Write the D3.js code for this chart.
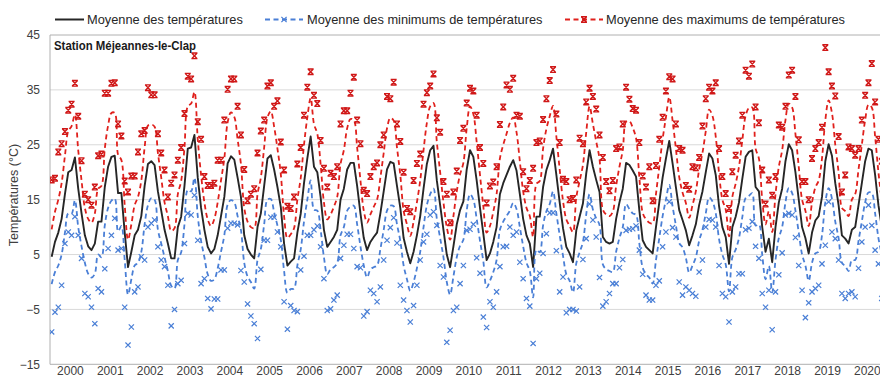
<!DOCTYPE html>
<html><head><meta charset="utf-8">
<script src="https://cdn.jsdelivr.net/npm/d3@7"></script>
<style>
html,body{margin:0;padding:0;background:#fff;}
svg{display:block;font-family:"Liberation Sans",Arial,sans-serif;}
</style></head><body>
<svg id="chart" width="880" height="378"></svg>
<script>
// ---------- DATA (monthly values, Jan 2000 .. Dec 2020) ----------
const years = [2000,2001,2002,2003,2004,2005,2006,2007,2008,2009,2010,2011,2012,2013,2014,2015,2016,2017,2018,2019,2020];
const yTicks = [45,35,25,15,5,-5,-15];
const titleText = "Station Méjeannes-le-Clap";
const yTitle = "Températures (°C)";
const seriesNames = ["Moyenne des températures","Moyenne des minimums de températures","Moyenne des maximums de températures"];

// Moyenne des températures (black line)
const meanT = [
 4.6, 7.3, 9.0,11.5,16.0,20.0,20.4,22.7,17.0,12.5, 8.5, 6.5,
 5.8, 7.0,11.0,11.0,17.3,21.0,22.8,23.0,16.2,16.2, 9.0, 2.7,
 5.5, 8.5, 9.5,12.0,17.5,21.5,22.0,21.3,16.5,13.0, 9.5, 7.0,
 4.3, 4.3,10.0,11.9,17.5,24.3,24.5,26.8,19.0,13.5, 9.5, 6.4,
 5.2, 6.0, 8.5,12.0,15.5,21.6,22.9,22.3,19.0,15.5, 8.5, 6.0,
 5.0, 4.3,10.0,12.5,17.5,22.5,23.1,20.5,17.3,13.7, 7.0, 3.0,
 3.7, 4.3, 9.0,12.4,18.0,22.5,26.5,21.0,20.0,15.5, 9.5, 6.4,
 7.3, 8.2, 9.5,15.0,17.0,20.5,21.7,21.7,17.5,12.5, 8.0, 5.8,
 7.3, 8.2, 9.0,12.5,16.5,20.5,21.9,21.6,17.5,13.5, 8.0, 5.5,
 3.4, 5.5, 8.5,12.0,17.0,21.5,24.0,24.8,18.5,14.0, 9.5, 5.0,
 2.7, 6.5,10.5,13.1,14.7,20.5,24.0,22.8,18.5,13.5, 8.8, 4.0,
 5.2, 7.3,10.0,16.0,18.0,19.5,21.0,22.2,20.3,16.0,11.5, 8.5,
 7.0, 2.7,11.9,11.9,17.3,20.4,22.2,24.3,19.5,14.5, 9.8, 6.4,
 5.2, 3.6, 9.4,11.9,14.3,19.8,24.0,21.0,18.6,16.4, 8.2, 7.3,
 7.0, 7.3,11.5,14.5,17.0,21.7,21.3,20.3,19.2,13.0, 7.6, 6.4,
 5.8, 5.2,10.0,14.5,19.0,22.5,25.7,21.6,17.3,13.1,11.3, 9.4,
 6.7, 8.5,10.5,14.0,16.5,20.0,23.4,22.5,19.5,13.8,10.0, 8.2,
 3.3,10.0,11.9,14.5,18.8,22.8,23.7,24.0,17.3,16.5,10.0, 5.5,
 7.9, 3.6,10.0,14.5,17.0,22.0,25.1,24.0,20.0,15.0,10.0, 8.0,
 5.2, 9.0,11.2,12.0,15.5,22.0,25.1,23.0,18.0,14.0, 8.5, 7.9,
 7.0, 9.5,10.0,14.0,18.0,22.0,24.3,24.0,19.5,14.0,10.0, 7.0
];
// Moyenne des minimums (blue dashed line)
const meanTmin = [
 -0.4, 1.8, 3.0, 5.0, 9.0,12.5,12.4,14.9,10.0, 6.5, 3.5, 1.5,
  0.8, 1.5, 5.0, 4.5,10.3,13.5,14.8,15.2, 9.2,10.2, 4.0,-2.3,
  0.5, 3.0, 3.5, 5.5,10.5,14.0,15.3,15.0, 9.5, 7.0, 4.5, 2.0,
 -0.7,-1.2, 4.0, 5.4,10.5,16.8,16.5,19.0,12.0, 7.5, 4.5, 1.4,
  0.2, 0.5, 2.5, 5.5, 8.5,14.1,14.9,14.5,12.0, 9.5, 3.5, 1.0,
  0.0,-1.2, 4.0, 6.0,10.5,15.0,15.1,12.7,10.3, 7.7, 2.0,-2.0,
 -1.3,-1.2, 3.0, 5.9,11.0,15.0,18.5,13.2,13.0, 9.5, 4.5, 1.4,
  2.3, 2.7, 3.5, 8.5,10.0,13.0,13.7,13.9,10.5, 6.5, 3.0, 0.8,
  2.3, 2.7, 3.0, 6.0, 9.5,13.0,13.9,13.8,10.5, 7.5, 3.0, 0.5,
 -1.6, 0.0, 2.5, 5.5,10.0,14.0,16.0,17.0,11.5, 8.0, 4.5, 0.0,
 -2.3, 1.0, 4.5, 6.6, 7.7,13.0,16.0,15.0,11.5, 7.5, 3.8,-1.0,
  0.2, 1.8, 4.0, 9.5,11.0,12.0,13.0,14.4,13.3,10.0, 6.5, 3.5,
  2.0,-2.8, 5.9, 5.4,10.3,12.9,14.2,16.5,12.5, 8.5, 4.8, 1.4,
  0.2,-1.9, 3.4, 5.4, 7.3,12.3,16.0,13.2,11.6,10.4, 3.2, 2.3,
  2.0, 1.8, 5.5, 8.0,10.0,14.2,13.3,12.5,12.2, 7.0, 2.6, 1.4,
  0.8,-0.3, 4.0, 8.0,12.0,15.0,17.7,13.8,10.3, 7.1, 6.3, 4.4,
  1.7, 3.0, 4.5, 7.5, 9.5,12.5,15.4,14.7,12.5, 7.8, 5.0, 3.2,
 -1.7, 4.5, 5.9, 8.0,11.8,15.3,15.7,16.2,10.3,10.5, 5.0, 0.5,
  2.9,-1.9, 4.0, 8.0,10.0,14.5,17.1,16.2,13.0, 9.0, 5.0, 3.0,
  0.2, 3.5, 5.2, 5.5, 8.5,14.5,17.1,15.2,11.0, 8.0, 3.5, 2.9,
  2.0, 4.0, 4.0, 7.5,11.0,14.5,16.3,16.2,12.5, 8.0, 5.0, 2.0
];
// Moyenne des maximums (red dashed line)
const meanTmax = [
  9.6,12.8,15.0,18.0,23.0,27.5,28.4,30.5,24.0,18.5,13.5,11.5,
 10.8,12.5,17.0,17.5,24.3,28.5,30.8,30.8,23.2,22.2,14.0, 7.7,
 10.5,14.0,15.5,18.5,24.5,28.5,28.7,28.3,23.5,19.0,14.5,12.0,
  9.3, 9.8,16.0,18.4,24.5,32.0,32.5,34.6,26.0,19.5,14.5,11.4,
 10.2,11.5,14.5,18.5,22.5,29.1,30.9,30.1,26.0,21.5,13.5,11.0,
 10.0, 9.8,16.0,19.0,24.5,30.0,31.1,28.3,24.3,19.7,12.0, 8.0,
  8.7, 9.8,15.0,18.9,25.0,30.0,33.5,28.8,27.0,21.5,14.5,11.4,
 12.3,13.7,15.5,21.5,24.0,28.0,29.7,29.5,24.5,18.5,13.0,10.8,
 12.3,13.7,15.0,19.0,23.5,28.0,29.9,29.4,24.5,19.5,13.0,10.5,
  8.4,11.0,14.5,18.5,24.0,29.0,32.0,32.6,25.5,20.0,14.5,10.0,
  7.7,12.0,16.5,19.6,21.7,28.0,32.0,30.6,25.5,19.5,13.8, 9.0,
 10.2,12.8,16.0,22.5,25.0,27.0,29.0,30.0,27.3,22.0,16.5,13.5,
 12.0, 8.2,17.9,18.4,24.3,27.9,30.2,32.1,26.5,20.5,14.8,11.4,
 10.2, 9.1,15.4,18.4,21.3,27.3,32.0,28.8,25.6,22.4,13.2,12.3,
 12.0,12.8,17.5,21.0,24.0,29.2,29.3,28.1,26.2,19.0,12.6,11.4,
 10.8,10.7,16.0,21.0,26.0,30.0,33.7,29.4,24.3,19.1,16.3,14.4,
 11.7,14.0,16.5,20.5,23.5,27.5,31.4,30.3,26.5,19.8,15.0,13.2,
  8.3,15.5,17.9,21.0,25.8,30.3,31.7,31.8,24.3,22.5,15.0,10.5,
 12.9, 9.1,16.0,21.0,24.0,29.5,32.5,31.8,27.0,21.0,15.0,13.0,
 10.2,14.5,17.2,18.5,22.5,29.5,33.1,30.8,25.0,20.0,13.5,12.9,
 12.0,15.0,16.0,20.5,25.0,29.5,32.3,31.8,26.5,20.0,15.0,12.0
];
// Monthly extreme minimum (blue × markers)
const absMin = [
 -9.1,-5.5,-4.6,-0.6, 7.0, 9.1, 8.5,11.9, 8.5, 4.3,-2.1,-2.7,
 -4.6,-7.6,-1.2,-1.8, 2.4, 6.1, 8.5,11.6, 5.8, 6.1,-4.6,-11.5,
 -8.2,-1.8,-0.9, 4.6, 4.0,10.0,10.7,11.3, 6.4, 4.0, 2.8,-0.6,
 -8.0,-5.0,-0.3, 0.3, 7.0,12.5,12.2,15.8, 7.6,-0.3, 0.6,-3.0,
 -4.9,-3.1,-3.1, 2.2, 2.2, 9.8,10.7,10.7,10.4, 2.1, 0.0,-4.0,
 -6.2,-7.6,-10.3, 2.3, 7.6, 7.6,11.8,11.8, 9.1, 6.4,-3.6,-8.6,
 -4.3,-5.2,-5.4, 2.2, 4.7, 8.5, 8.5, 9.5,10.2, 6.4, 0.6,-5.2,
 -4.9,-3.3,-2.4, 4.3, 6.7, 8.7, 8.7, 6.1, 2.8, 2.6,-6.2,-5.4,
 -1.5,-2.1,-3.6,-0.9, 4.0, 7.6, 9.9,11.7, 7.1,-0.6,-3.3,-5.2,
 -7.3,-4.3,-0.6, 4.0, 7.3, 8.7,12.2,12.8,10.3, 3.0, 0.9,-11.0,
 -8.8,-5.2,-4.6,-0.3, 3.0, 9.4, 9.6,10.5, 4.4, 1.6,-6.4,-8.3,
 -3.6,-4.6,-1.8, 2.8, 6.4, 6.5,10.0, 8.5, 9.1, 3.6, 0.6,-3.0,
 -4.4,-11.2, 0.6, 1.6, 5.2, 8.8,12.6,12.6, 5.7,-1.8, 0.9,-5.6,
 -5.0,-5.0,-5.3,-0.9, 4.1, 7.9,14.2,11.3, 8.2, 0.8,-4.4,-3.6,
 -2.1,-0.3,-0.3, 2.6, 4.1, 9.4, 9.6, 9.7,10.2, 5.8, 1.4,-2.4,
 -3.3,-3.3,-0.6, 0.2, 6.4, 9.1,14.6, 9.9, 8.2, 0.0,-2.4,-0.9,
 -1.5,-2.1,-2.6, 1.8, 4.0,10.0,11.4,11.3,10.0, 3.0,-2.1,-2.7,
 -7.3,-1.8,-0.9, 1.5, 1.5, 9.5, 9.8,11.0, 6.5, 4.3,-2.1,-4.6,
 -1.5,-8.7,-1.8, 1.3, 5.3,12.2,12.5,12.2, 8.1, 3.0,-1.5,-6.5,
 -3.8,-1.8,-1.2,-0.6, 3.3, 6.7,14.6, 9.1, 7.9, 4.0,-2.1,-3.0,
 -2.1,-1.8,-2.7, 2.5, 7.3,10.0,14.0,10.3, 5.8, 3.3,-3.0,-3.0
];
// Monthly extreme maximum (red markers)
const absMax = [
 18.6,18.9,23.7,25.2,27.4,31.3,32.4,36.2,30.2,22.1,16.0,15.0,
 14.0,17.3,23.0,23.3,34.4,34.4,36.2,36.3,28.8,26.6,18.4,16.4,
 19.3,19.3,23.7,27.0,27.6,35.4,34.1,34.1,27.0,23.5,20.4,15.5,
 18.0,19.5,22.2,24.5,30.7,37.5,37.0,41.2,29.2,26.0,19.2,17.6,
 17.6,18.0,22.2,22.2,29.5,35.1,37.0,37.0,32.0,26.8,20.5,14.8,
 16.0,17.0,23.5,27.5,29.5,35.7,36.3,32.0,33.0,25.5,20.4,13.8,
 13.4,15.5,21.5,24.5,30.4,35.5,38.3,34.0,32.5,25.8,20.7,17.3,
 19.8,19.2,21.0,28.8,31.2,31.2,34.4,37.3,29.5,25.2,16.7,16.1,
 19.2,21.0,21.7,25.0,26.8,33.8,33.4,36.4,28.8,25.6,20.0,13.4,
 12.8,18.5,21.6,23.3,32.4,34.5,35.7,37.9,29.9,27.3,18.3,16.0,
 10.8,16.4,20.2,25.8,28.0,32.6,35.3,34.8,30.4,24.5,21.6,14.4,
 17.5,18.2,21.0,28.7,31.9,35.9,35.1,37.1,30.4,30.2,20.1,17.0,
 18.5,20.7,25.4,25.7,29.6,33.4,36.7,38.7,30.6,25.4,18.7,18.3,
 15.0,15.2,18.6,26.2,25.2,32.8,35.3,33.8,31.5,26.8,22.7,18.3,
 16.6,18.5,24.3,24.6,28.8,35.5,33.3,31.6,31.3,25.4,19.3,17.3,
 21.0,14.8,21.2,26.0,30.0,34.8,37.4,37.0,28.8,24.3,24.0,17.6,
 16.9,21.0,20.8,22.7,28.4,33.4,35.5,34.8,36.3,24.3,19.2,16.1,
 13.4,20.1,23.1,25.7,30.4,38.6,37.5,39.7,31.9,29.0,20.4,14.2,
 18.6,15.8,19.2,28.6,28.2,32.0,37.7,38.6,33.8,25.9,18.3,18.3,
 15.0,22.5,24.3,25.4,28.2,42.7,38.3,35.7,33.9,26.5,16.4,19.5,
 24.6,24.3,23.1,24.3,29.5,34.0,36.3,39.8,32.8,26.0,22.0,18.0
];

// ---------- CHART ----------
const W = 880, H = 378;
const pL = 50, pT = 35, pB = 364.3;
const nMonths = years.length * 12;
const pR = pL + 3.3204 * nMonths;     // extends beyond the picture (cropped like the reference)

const svg = d3.select("#chart");
const months = d3.range(nMonths);
const xBand = d3.scaleBand().domain(months).range([pL, pR]).padding(0);
const xm = i => xBand(i) + xBand.bandwidth() / 2;
const xYear = d3.scaleLinear().domain([years[0], years[years.length-1] + 1]).range([pL, pR]);
const y = d3.scaleLinear().domain([-15, 45]).range([pB, pT]);

// grid lines
svg.append("g").selectAll("line").data(yTicks.filter(t => t !== 45 && t !== -15)).join("line")
  .attr("x1", pL).attr("x2", W).attr("y1", d => y(d)).attr("y2", d => y(d))
  .attr("stroke", "#d9d9d9").attr("stroke-width", 1);

// frame
svg.append("line").attr("x1", pL).attr("x2", W).attr("y1", y(45)).attr("y2", y(45)).attr("stroke", "#b0b0b0");
svg.append("line").attr("x1", pL).attr("x2", W).attr("y1", y(-15)).attr("y2", y(-15)).attr("stroke", "#b0b0b0");
svg.append("line").attr("x1", pL).attr("x2", pL).attr("y1", y(45)).attr("y2", y(-15)).attr("stroke", "#b0b0b0");

// y axis labels
const yAxis = d3.axisLeft(y).tickValues(yTicks).tickSize(0).tickPadding(10);
const gy = svg.append("g").attr("transform", `translate(${pL},0)`).call(yAxis);
gy.select(".domain").remove();
gy.selectAll("text").attr("font-size", 12).attr("fill", "#404040").attr("font-family", "Liberation Sans, Arial, sans-serif");

// x axis labels (year names centred under each year)
const xAxis = d3.axisBottom(xYear).tickValues(years.map(v => v + 0.5)).tickFormat(d => String(Math.floor(d))).tickSize(0).tickPadding(0);
const gx = svg.append("g").attr("transform", `translate(0,${pB})`).call(xAxis);
gx.select(".domain").remove();
gx.selectAll("text").attr("font-size", 12).attr("fill", "#404040").attr("dy", null).attr("y", 10.5)
  .attr("font-family", "Liberation Sans, Arial, sans-serif");

// y title
svg.append("text").attr("transform", "translate(18,195) rotate(-90)")
  .attr("text-anchor", "middle").attr("font-size", 12.5).attr("fill", "#404040").text(yTitle);

// clip
svg.append("clipPath").attr("id", "plotclip").append("rect")
  .attr("x", pL).attr("y", pT - 6).attr("width", W - pL).attr("height", pB - pT + 6);
const plot = svg.append("g").attr("clip-path", "url(#plotclip)");

const BLACK = "#262626", BLUE = "#4a7fd6", RED = "#e0201c", RED_MK = "#d01818";
const xPath = "M-2.6,-2.6L2.6,2.6M2.6,-2.6L-2.6,2.6";
const starPath = "M-3,-2.8H3M-3,2.8H3M-2.7,-2.8L2.7,2.8M2.7,-2.8L-2.7,2.8";

// mean line
plot.append("path").datum(meanT)
  .attr("d", d3.line().x((d,i) => xm(i)).y(d => y(d)))
  .attr("fill", "none").attr("stroke", BLACK).attr("stroke-width", 1.9).attr("stroke-linejoin", "round");

// min series
plot.append("path").datum(meanTmin)
  .attr("d", d3.line().curve(d3.curveCatmullRom.alpha(0.5)).x((d,i) => xm(i)).y(d => y(d)))
  .attr("fill", "none").attr("stroke", BLUE).attr("stroke-width", 1.8).attr("stroke-dasharray", "5,3.5");
plot.append("g").selectAll("path").data(absMin).join("path")
  .attr("transform", (d,i) => `translate(${xm(i)},${y(d)})`).attr("d", xPath)
  .attr("stroke", BLUE).attr("stroke-width", 1.2).attr("fill", "none");

// max series
plot.append("path").datum(meanTmax)
  .attr("d", d3.line().curve(d3.curveCatmullRom.alpha(0.5)).x((d,i) => xm(i)).y(d => y(d)))
  .attr("fill", "none").attr("stroke", RED).attr("stroke-width", 1.8).attr("stroke-dasharray", "5,3.5");
plot.append("g").selectAll("path").data(absMax).join("path")
  .attr("transform", (d,i) => `translate(${xm(i)},${y(d)})`).attr("d", starPath)
  .attr("stroke", RED_MK).attr("stroke-width", 1.4).attr("fill", "none");

// title inside plot
svg.append("text").attr("x", 54).attr("y", 49.5).attr("font-size", 13.5).attr("font-weight", "bold")
  .attr("fill", "#1a1a1a").attr("textLength", 142).attr("lengthAdjust", "spacingAndGlyphs").text(titleText);

// legend
const lg = svg.append("g").attr("font-size", 12.8).attr("fill", "#262626");
const ly = 19.5;
lg.append("line").attr("x1", 55).attr("x2", 84).attr("y1", ly).attr("y2", ly).attr("stroke", BLACK).attr("stroke-width", 2);
lg.append("text").attr("x", 87).attr("y", ly + 4.5).text(seriesNames[0]);
lg.append("line").attr("x1", 265).attr("x2", 303).attr("y1", ly).attr("y2", ly).attr("stroke", BLUE).attr("stroke-width", 1.8).attr("stroke-dasharray", "5,3.5");
lg.append("path").attr("transform", `translate(284,${ly})`).attr("d", xPath).attr("stroke", BLUE).attr("stroke-width", 1.2);
lg.append("text").attr("x", 307).attr("y", ly + 4.5).text(seriesNames[1]);
lg.append("line").attr("x1", 565).attr("x2", 603).attr("y1", ly).attr("y2", ly).attr("stroke", RED).attr("stroke-width", 1.8).attr("stroke-dasharray", "5,3.5");
lg.append("path").attr("transform", `translate(584,${ly})`).attr("d", starPath).attr("stroke", RED_MK).attr("stroke-width", 1.4).attr("fill", "none");
lg.append("text").attr("x", 606).attr("y", ly + 4.5).text(seriesNames[2]);
</script>
</body></html>
